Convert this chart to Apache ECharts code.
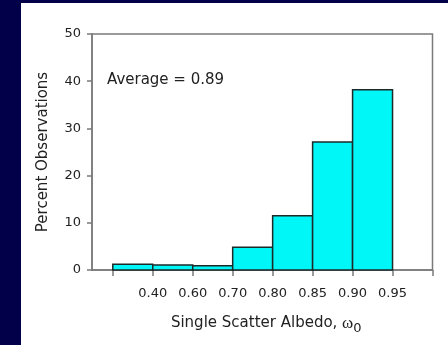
<!DOCTYPE html>
<html>
<head>
<meta charset="utf-8">
<script src="https://cdn.jsdelivr.net/npm/echarts@6/dist/echarts.min.js"></script>
<style>
html,body{margin:0;padding:0;background:#03004a;}
#c{width:448px;height:345px;}
</style>
</head>
<body>
<div id="c"></div>
<script>
// Bin edges (as ordinal positions) and labels
const tickLabels = ['0.40', '0.60', '0.70', '0.80', '0.85', '0.90', '0.95'];
const binIndex = [0, 1, 2, 3, 4, 5, 6];
const percentValues = [1.2, 1.05, 0.9, 4.8, 11.5, 27.1, 38.2];
const yTicks = [0, 10, 20, 30, 40, 50];
const averageText = 'Average = 0.89';

const FONT = 'DejaVu Sans';
const TXT = '#222222';
const chart = echarts.init(document.getElementById('c'), null, {renderer: 'canvas'});

const data = binIndex.map((b, i) => [b, b + 1, percentValues[i]]);

chart.setOption({
  backgroundColor: '#03004a',
  animation: false,
  graphic: [{
    type: 'rect', z: -10, silent: true,
    shape: {x: 21, y: 3, width: 427, height: 342},
    style: {fill: '#ffffff'}
  }],
  title: {
    text: averageText,
    left: 107, top: 73, padding: 0,
    textStyle: {fontFamily: FONT, fontSize: 15, fontWeight: 'normal', color: TXT}
  },
  grid: {
    left: 92, right: 15.5, top: 34, bottom: 75,
    show: true, borderColor: '#7a7a7a', borderWidth: 1.5, backgroundColor: 'transparent'
  },
  xAxis: {
    type: 'value', min: -0.52, max: 8,
    name: 'Single Scatter Albedo, {w|ω}{sub|0}',
    nameLocation: 'middle', nameGap: 42,
    nameTextStyle: {
      fontFamily: FONT, fontSize: 15, color: TXT, padding: [0, 0, 0, 8],
      rich: {
        w: {fontFamily: 'Liberation Serif', fontSize: 17, color: TXT},
        sub: {fontFamily: FONT, fontSize: 13, color: TXT, padding: [10, 0, 0, 0]}
      }
    },
    splitLine: {show: false},
    axisLine: {show: true, onZero: false, lineStyle: {color: '#7a7a7a', width: 1.5}},
    axisTick: {show: true, length: 6, customValues: [0, 1, 2, 3, 4, 5, 6, 7, 8], lineStyle: {color: '#7a7a7a', width: 1.5}},
    axisLabel: {
      show: true, margin: 17, customValues: [1, 2, 3, 4, 5, 6, 7],
      fontFamily: FONT, fontSize: 13, color: TXT,
      formatter: v => tickLabels[Math.round(v) - 1] || ''
    }
  },
  yAxis: {
    type: 'value', min: 0, max: 50, interval: 10,
    name: 'Percent Observations', nameLocation: 'middle', nameGap: 41,
    nameTextStyle: {fontFamily: FONT, fontSize: 15, color: TXT},
    splitLine: {show: false},
    axisLine: {show: true, onZero: false, lineStyle: {color: '#7a7a7a', width: 1.5}},
    axisTick: {show: true, length: 5, lineStyle: {color: '#7a7a7a', width: 1.5}},
    axisLabel: {fontFamily: FONT, fontSize: 13, color: TXT, margin: 11,
      formatter: v => yTicks.includes(v) ? String(v) : ''}
  },
  series: [{
    type: 'custom',
    data: data,
    encode: {x: [0, 1], y: 2},
    renderItem: function (params, api) {
      const p0 = api.coord([api.value(0), api.value(2)]);
      const p1 = api.coord([api.value(1), 0]);
      return {
        type: 'rect',
        shape: {x: p0[0], y: p0[1], width: p1[0] - p0[0], height: p1[1] - p0[1]},
        style: {fill: '#00f7f7', stroke: '#1c2a2a', lineWidth: 1.5}
      };
    }
  }]
});
</script>
</body>
</html>
